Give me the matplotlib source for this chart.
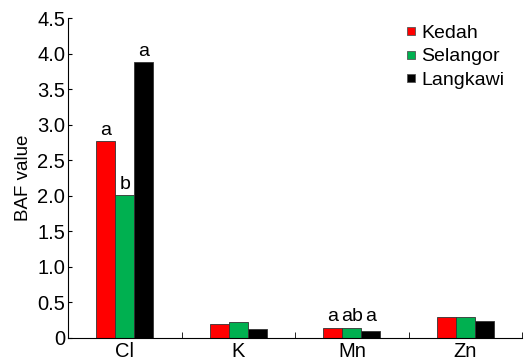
import numpy as np
import matplotlib.pyplot as plt
from matplotlib.lines import Line2D

plt.rcParams['font.family'] = ['Liberation Sans', 'DejaVu Sans']

elements = ["Cl", "K", "Mn", "Zn"]
sites = ["Kedah", "Selangor", "Langkawi"]
colors = ["#ff0000", "#00b050", "#000000"]
kedah = [2.77, 0.20, 0.14, 0.30]
selangor = [2.01, 0.225, 0.145, 0.295]
langkawi = [3.88, 0.12, 0.09, 0.24]
letters = {
    "Kedah": ["a", "", "a", ""],
    "Selangor": ["b", "", "ab", ""],
    "Langkawi": ["a", "", "a", ""],
}

fig = plt.figure(figsize=(5.28, 3.61), dpi=100)
ax = fig.add_axes([0.129, 0.064, 0.860, 0.886])

x = np.arange(len(elements))
w = 0.167
all_vals = np.array([kedah, selangor, langkawi])
for k, (name, vals, c) in enumerate(zip(sites, all_vals, colors)):
    pos = x + (k - 1) * w
    ax.bar(pos, vals, w, color=c, edgecolor="#333333", linewidth=0.6, label=name)
    for i, (p, v, t) in enumerate(zip(pos, vals, letters[name])):
        if t:
            # small bars share one label line (as in the Mn group)
            y = all_vals[:, i].max() if all_vals[:, i].max() < 0.5 else v
            ax.text(p, y + 0.03, t, ha="center", va="bottom", fontsize=14)

ax.set_xlim(-0.5, 3.5)
ax.set_ylim(0, 4.5)
ax.set_yticks(np.arange(0, 4.51, 0.5))
ax.set_yticklabels(["0"] + ["%.1f" % v for v in np.arange(0.5, 4.51, 0.5)])
ax.set_xticks(x)
ax.set_xticklabels(elements)
ax.set_xticks(np.arange(-0.5, 3.6, 1), minor=True)
ax.tick_params(axis="x", which="major", length=0, labelsize=14.5, pad=3)
ax.tick_params(axis="x", which="minor", direction="in", length=4)
ax.tick_params(axis="y", direction="in", length=3, labelsize=14.5, pad=2)
ax.set_ylabel("BAF value", fontsize=13.5, labelpad=4)
for s in ["top", "right"]:
    ax.spines[s].set_visible(False)

handles = [Line2D([], [], ls="none", marker="s", markersize=5.5, markerfacecolor=c,
                  markeredgecolor="#555555", markeredgewidth=0.6) for c in colors]
ax.legend(handles, sites, loc="upper right", bbox_to_anchor=(1.0, 1.035), frameon=False,
          fontsize=14, handlelength=0.5, handletextpad=0.3, labelspacing=0.3)

fig.savefig("out.png", dpi=100)
